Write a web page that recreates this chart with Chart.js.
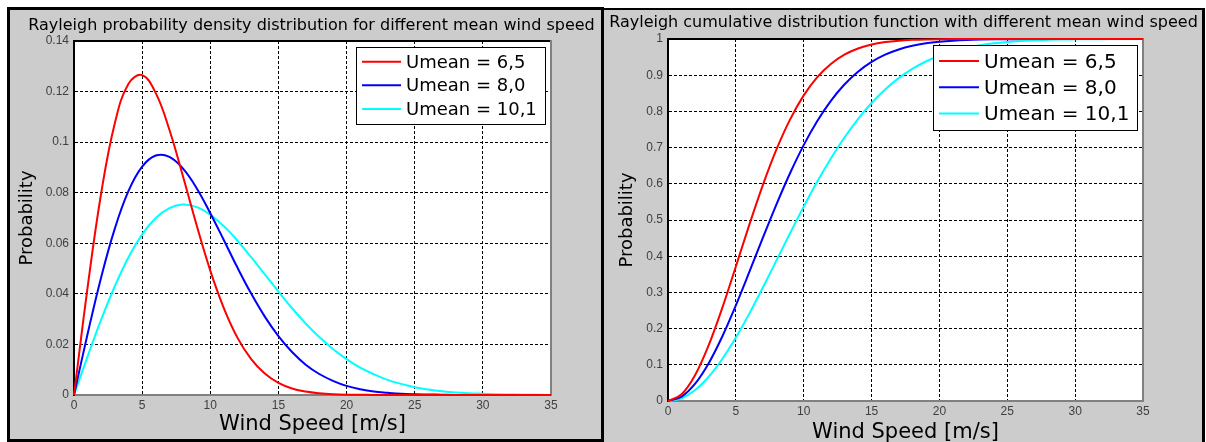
<!DOCTYPE html>
<html>
<head>
<meta charset="utf-8">
<script src="https://cdn.jsdelivr.net/npm/chart.js@4.4.1/dist/chart.umd.min.js"></script>
<style>
  html, body { margin: 0; padding: 0; background: #fff; }
  body { width: 1206px; height: 442px; position: relative; overflow: hidden; }
  .panel { position: absolute; box-sizing: border-box; background: #cccccc; border: 3px solid #000; }
  #panelL { left: 7px; top: 7px; width: 597px; height: 435px; }
  #panelR { left: 604px; top: 8px; width: 601px; height: 445px; border-left: none; border-bottom: none; border-top-width: 2px; }
  canvas { position: absolute; }
  #pdfChart { left: 9px; top: 10px; }
  #cdfChart { left: 606px; top: 10px; }
</style>
</head>
<body>
<div class="panel" id="panelL"></div>
<div class="panel" id="panelR"></div>
<canvas id="pdfChart" width="605" height="429"></canvas>
<canvas id="cdfChart" width="595" height="440"></canvas>
<script>
// wind speed samples [m/s]
const speeds = [0, 1, 2, 3, 4, 5, 6, 7, 8, 9, 10, 11, 12, 13, 14, 15, 16, 17,
  18, 19, 20, 21, 22, 23, 24, 25, 26, 27, 28, 29, 30, 31, 32, 33, 34, 35];

const seriesNames = ["Umean = 6,5", "Umean = 8,0", "Umean = 10,1"];
const seriesColors = ["#ff0000", "#0000ff", "#00ffff"];

// probability density
const pdfA = [0, 0.0427, 0.0800, 0.1076, 0.1231, 0.1265, 0.1194, 0.1049, 0.0864, 0.0671,
  0.0492, 0.0343, 0.0226, 0.0142, 0.0085, 0.0048, 0.0026, 0.0014, 0.0007, 0.0003,
  0.0001, 0.0001, 0, 0, 0, 0, 0, 0, 0, 0, 0, 0, 0, 0, 0, 0];
const pdfB = [0, 0.0242, 0.0467, 0.0659, 0.0807, 0.0903, 0.0947, 0.0942, 0.0895, 0.0818,
  0.0719, 0.0612, 0.0503, 0.0401, 0.0310, 0.0233, 0.0170, 0.0120, 0.0083, 0.0056,
  0.0036, 0.0023, 0.0014, 0.0009, 0.0005, 0.0003, 0.0002, 0.0001, 0, 0, 0, 0, 0, 0, 0, 0];
const pdfC = [0, 0.0153, 0.0299, 0.0431, 0.0545, 0.0635, 0.0700, 0.0739, 0.0753, 0.0743,
  0.0713, 0.0667, 0.0610, 0.0545, 0.0477, 0.0409, 0.0343, 0.0283, 0.0229, 0.0182,
  0.0142, 0.0108, 0.0082, 0.0060, 0.0044, 0.0031, 0.0022, 0.0015, 0.0010, 0.0007,
  0.0005, 0.0003, 0.0002, 0.0001, 0.0001, 0];

// cumulative distribution
const cdfA = [0, 0.0184, 0.0717, 0.1541, 0.2572, 0.3717, 0.4879, 0.5978, 0.6957, 0.7781,
  0.8442, 0.8945, 0.9312, 0.9568, 0.9738, 0.9847, 0.9914, 0.9954, 0.9976, 0.9988,
  0.9994, 0.9997, 0.9999, 1, 1, 1, 1, 1, 1, 1, 1, 1, 1, 1, 1, 1];
const cdfB = [0, 0.0122, 0.0479, 0.1046, 0.1783, 0.2642, 0.3571, 0.4519, 0.5441, 0.6299,
  0.7069, 0.7735, 0.8292, 0.8743, 0.9097, 0.9368, 0.9568, 0.9712, 0.9812, 0.9881,
  0.9926, 0.9955, 0.9974, 0.9985, 0.9992, 0.9995, 0.9998, 0.9999, 0.9999, 1, 1, 1, 1, 1, 1, 1];
const cdfC = [0, 0.0077, 0.0303, 0.0670, 0.1159, 0.1751, 0.2421, 0.3143, 0.3891, 0.4640,
  0.5370, 0.6061, 0.6700, 0.7278, 0.7789, 0.8231, 0.8607, 0.8920, 0.9175, 0.9379,
  0.9540, 0.9665, 0.9759, 0.9830, 0.9881, 0.9919, 0.9945, 0.9964, 0.9976, 0.9985,
  0.9990, 0.9994, 0.9996, 0.9998, 0.9999, 0.9999];

// ticks
const speedTicks = [0, 5, 10, 15, 20, 25, 30, 35];
const speedTickLabels = ["0", "5", "10", "15", "20", "25", "30", "35"];
const pdfTicks = [0, 0.02, 0.04, 0.06, 0.08, 0.1, 0.12, 0.14];
const pdfTickLabels = ["0", "0.02", "0.04", "0.06", "0.08", "0.1", "0.12", "0.14"];
const cdfTicks = [0, 0.1, 0.2, 0.3, 0.4, 0.5, 0.6, 0.7, 0.8, 0.9, 1];
const cdfTickLabels = ["0", "0.1", "0.2", "0.3", "0.4", "0.5", "0.6", "0.7", "0.8", "0.9", "1"];

Chart.defaults.font.family = "'Liberation Sans', Arial, sans-serif";
Chart.defaults.color = "#404040";

const plotBg = {
  id: "plotBg",
  beforeDraw(chart) {
    const { ctx, chartArea: a } = chart;
    ctx.save();
    ctx.fillStyle = "#fff";
    ctx.fillRect(a.left, a.top, a.width, a.height);
    ctx.restore();
  },
};

// legend box inside the top right corner of the plot
const boxLegend = {
  id: "boxLegend",
  afterDatasetsDraw(chart, args, opts) {
    const { ctx, chartArea: a } = chart;
    const sets = chart.data.datasets;
    ctx.save();
    ctx.font = opts.size + "px 'DejaVu Sans'";
    let tw = 0;
    sets.forEach((d) => (tw = Math.max(tw, ctx.measureText(d.label).width)));
    const rowH = opts.size * 1.31;
    const w = Math.round(6 + opts.line + 5 + tw + 8);
    const h = Math.round(sets.length * rowH + 6);
    const x = Math.round(a.right - 6 - w);
    const y = Math.round(a.top + 6);
    ctx.fillStyle = "#fff";
    ctx.fillRect(x, y, w, h);
    ctx.strokeStyle = "#000";
    ctx.lineWidth = 1;
    ctx.strokeRect(x + 0.5, y + 0.5, w, h);
    sets.forEach((d, i) => {
      const cy = y + 3 + rowH * (i + 0.5);
      ctx.strokeStyle = d.borderColor;
      ctx.lineWidth = 2;
      ctx.beginPath();
      ctx.moveTo(x + 6, cy);
      ctx.lineTo(x + 6 + opts.line, cy);
      ctx.stroke();
      ctx.fillStyle = "#000";
      ctx.textBaseline = "middle";
      ctx.textAlign = "left";
      ctx.fillText(d.label, x + 11 + opts.line, cy + 1.3);
    });
    ctx.restore();
  },
};

function hideEdges(n) {
  return (c) => (c.index === 0 || c.index === n - 1 ? "rgba(0,0,0,0)" : "#000");
}

function makeChart(id, series, yTicks, yLabels, L) {
  const datasets = series.map((vals, i) => ({
    label: seriesNames[i],
    data: speeds.map((s, j) => ({ x: s, y: vals[j] })),
    borderColor: seriesColors[i],
    borderWidth: 2,
    pointRadius: 0,
    cubicInterpolationMode: L.curve,
    tension: 0.4,
    clip: false,
    xAxisID: "x",
    yAxisID: "y",
  }));
  return new Chart(document.getElementById(id), {
    type: "line",
    data: { datasets },
    plugins: [plotBg, boxLegend],
    options: {
      responsive: false,
      animation: false,
      events: [],
      layout: { padding: { left: 0, right: 0, top: 0, bottom: L.padBottom } },
      plugins: {
        legend: { display: false },
        tooltip: { enabled: false },
        title: {
          display: true,
          text: L.title,
          color: "#000",
          font: { family: "'DejaVu Sans'", size: 16, weight: "normal" },
          padding: L.titlePad,
        },
        boxLegend: { size: L.legendSize, line: L.legendLine },
      },
      scales: {
        x: {
          type: "linear",
          min: 0,
          max: 35,
          afterBuildTicks: (s) => { s.ticks = speedTicks.map((v) => ({ value: v })); },
          afterFit: (s) => { s.height = L.xHeight; },
          ticks: { callback: (v, i) => speedTickLabels[i], padding: 3, font: { size: 12 }, maxRotation: 0 },
          grid: { drawTicks: false, color: hideEdges(speedTicks.length), lineWidth: 1 },
          border: { color: "#808080", width: 2, dash: [3, 2] },
          title: {
            display: true,
            text: "Wind Speed [m/s]",
            color: "#000",
            font: { family: "'DejaVu Sans'", size: 21 },
            padding: { top: 0, bottom: 0 },
          },
        },
        y: {
          type: "linear",
          min: 0,
          max: yTicks[yTicks.length - 1],
          afterBuildTicks: (s) => { s.ticks = yTicks.map((v) => ({ value: v })); },
          afterFit: (s) => { s.width = L.yWidth; },
          ticks: { callback: (v, i) => yLabels[i], padding: 5, font: { size: 12 } },
          grid: { drawTicks: false, color: hideEdges(yTicks.length), lineWidth: 1 },
          border: { color: "#000", width: 2, dash: [3, 2] },
          title: {
            display: true,
            text: "Probability",
            color: "#000",
            font: { family: "'DejaVu Sans'", size: 18 },
            padding: { top: L.yTitlePad, bottom: 0 },
          },
        },
        xTop: {
          type: "linear",
          position: "top",
          afterFit: (s) => { s.height = 0; },
          ticks: { display: false },
          grid: { display: false, drawTicks: false },
          border: { color: "#000", width: 2 },
        },
        yRight: {
          type: "linear",
          position: "right",
          afterFit: (s) => { s.width = L.rightWidth; },
          ticks: { display: false },
          grid: { display: false, drawTicks: false },
          border: { color: "#808080", width: 2 },
        },
      },
    },
  });
}

makeChart("pdfChart", [pdfA, pdfB, pdfC], pdfTicks, pdfTickLabels, {
  title: "Rayleigh probability density distribution for different mean wind speed",
  titlePad: { top: 6.4, bottom: 5.4 },
  padBottom: 2,
  xHeight: 42,
  yWidth: 65,
  rightWidth: 63,
  yTitlePad: 7.2,
  legendSize: 18,
  legendLine: 39,
  curve: "default",
});

makeChart("cdfChart", [cdfA, cdfB, cdfC], cdfTicks, cdfTickLabels, {
  title: "Rayleigh cumulative distribution function with different mean wind speed",
  titlePad: { top: 3.4, bottom: 6.4 },
  padBottom: 5,
  xHeight: 44,
  yWidth: 62,
  rightWidth: 58,
  yTitlePad: 10.2,
  legendSize: 20,
  legendLine: 40,
  curve: "monotone",
});
</script>
</body>
</html>
